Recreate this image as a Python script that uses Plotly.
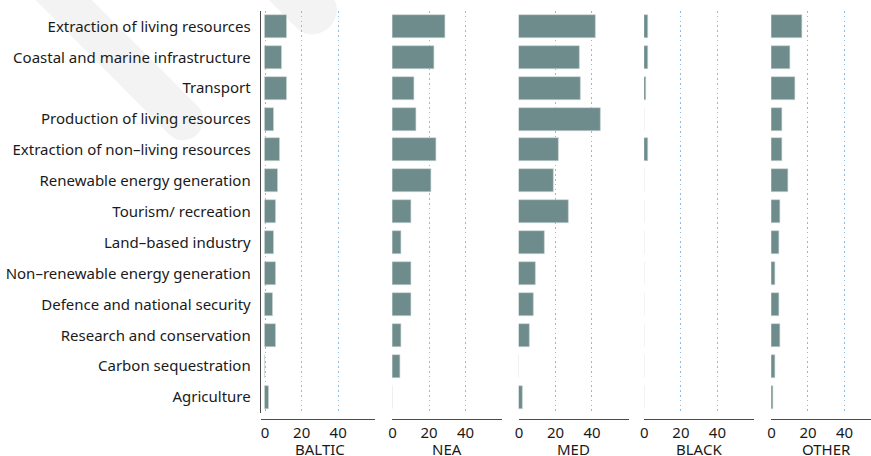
import math
import plotly.graph_objects as go

# Activity categories (top to bottom) and counts per sea region
categories = [
    "Extraction of living resources",
    "Coastal and marine infrastructure",
    "Transport",
    "Production of living resources",
    "Extraction of non–living resources",
    "Renewable energy generation",
    "Tourism/ recreation",
    "Land–based industry",
    "Non–renewable energy generation",
    "Defence and national security",
    "Research and conservation",
    "Carbon sequestration",
    "Agriculture",
]
regions = ["BALTIC", "NEA", "MED", "BLACK", "OTHER"]

baltic = [12, 9, 12, 5, 8, 7, 6, 5, 6, 4, 6, 0, 2]
nea = [29, 23, 12, 13, 24, 21, 10, 5, 10, 10, 5, 4, 0]
med = [42, 33, 34, 45, 22, 19, 27, 14, 9, 8, 6, 0, 2]
black = [2, 2, 1, 0, 2, 0, 0, 0, 0, 0, 0, 0, 0]
other = [17, 10, 13, 6, 6, 9, 5, 4, 2, 4, 5, 2, 1]
series = [baltic, nea, med, black, other]

tick_vals = [0, 20, 40]

W, H = 871, 456
PX_PER_UNIT = 1.835
BAR_COLOR = "#6f8c8c"
GRID_COLOR = "#8dbbe3"
AXIS_COLOR = "#4a4a4a"
TEXT_COLOR = "#1a1a1a"
MARK_COLOR = "#f3f3f3"
FONT = "Noto Sans"

# panel pixel geometry: (left edge, position of zero, right edge)
panels = [
    (258.0, 262.3, 372.4),
    (390.0, 390.3, 500.4),
    (517.0, 517.3, 627.4),
    (643.0, 643.3, 753.4),
    (770.7, 771.0, 871.0),
]

plot_top, plot_bottom = 11.0, 412.5
axis_line_y = 418.5


def px(x, y):
    """Pixel position (top-left origin) -> paper fraction string."""
    return f"{x / W:.5f},{(H - y) / H:.5f}"


def stroke_path(x0, y0, x1, y1, hw):
    """Filled band from (x0,y0) to (x1,y1) with a rounded end at (x1,y1)."""
    L = math.hypot(x1 - x0, y1 - y0)
    dx, dy = (x1 - x0) / L, (y1 - y0) / L
    nx, ny = -dy, dx
    k = hw * 4 / 3
    a = (x0 + nx * hw, y0 + ny * hw)
    b = (x1 + nx * hw, y1 + ny * hw)
    c = (x1 - nx * hw, y1 - ny * hw)
    d = (x0 - nx * hw, y0 - ny * hw)
    c1 = (b[0] + dx * k, b[1] + dy * k)
    c2 = (c[0] + dx * k, c[1] + dy * k)
    return (f"M {px(*a)} L {px(*b)} C {px(*c1)} {px(*c2)} {px(*c)} "
            f"L {px(*d)} Z")


fig = go.Figure()
layout = {}
for i, (vals, (left, zero, right)) in enumerate(zip(series, panels)):
    n = "" if i == 0 else str(i + 1)
    fig.add_trace(go.Bar(
        x=vals, y=categories, orientation="h",
        xaxis="x" + n, yaxis="y",
        marker=dict(color=BAR_COLOR, line=dict(color="#c9d5d5", width=0.6)),
        width=0.745, showlegend=False, hoverinfo="x+y",
    ))
    lo = (left - zero) / PX_PER_UNIT
    hi = (right - zero) / PX_PER_UNIT
    layout["xaxis" + n] = dict(
        domain=[left / W, right / W],
        range=[lo, hi],
        anchor="free",
        position=(H - axis_line_y) / H,
        tickvals=tick_vals,
        ticktext=[str(v) for v in tick_vals],
        showgrid=True, gridcolor=GRID_COLOR, griddash="1.5px,3.3px", gridwidth=1,
        zeroline=False,
        showline=True, linecolor=AXIS_COLOR, linewidth=1.2,
        ticks="", tickfont=dict(family=FONT, size=15, color=TEXT_COLOR),
        fixedrange=True,
    )
    fig.add_annotation(
        x=30, xref="x" + n, y=(H - 449) / H, yref="paper",
        text=regions[i], showarrow=False, yanchor="middle",
        font=dict(family=FONT, size=15, color=TEXT_COLOR),
    )

# faint background watermark strokes
for seg in [(30, -30, 180, 120, 20), (250, -50, 310, 10, 24)]:
    fig.add_shape(type="path", path=stroke_path(*seg),
                  xref="paper", yref="paper", layer="below",
                  fillcolor=MARK_COLOR, line=dict(width=0))

layout["yaxis"] = dict(
    domain=[(H - plot_bottom) / H, (H - plot_top) / H],
    categoryorder="array", categoryarray=categories[::-1],
    range=[-0.5, len(categories) - 0.5],
    anchor="x",
    showline=True, linecolor=AXIS_COLOR, linewidth=1.2,
    ticks="outside", ticklen=6, tickcolor="rgba(0,0,0,0)",
    tickfont=dict(family=FONT, size=15, color=TEXT_COLOR),
    showgrid=False, zeroline=False, fixedrange=True,
)

fig.update_layout(
    width=W, height=H,
    margin=dict(l=0, r=0, t=0, b=0),
    paper_bgcolor="white", plot_bgcolor="rgba(0,0,0,0)",
    barmode="group", bargap=0,
    **layout,
)

fig.write_html("out.html", config={"displayModeBar": False})
